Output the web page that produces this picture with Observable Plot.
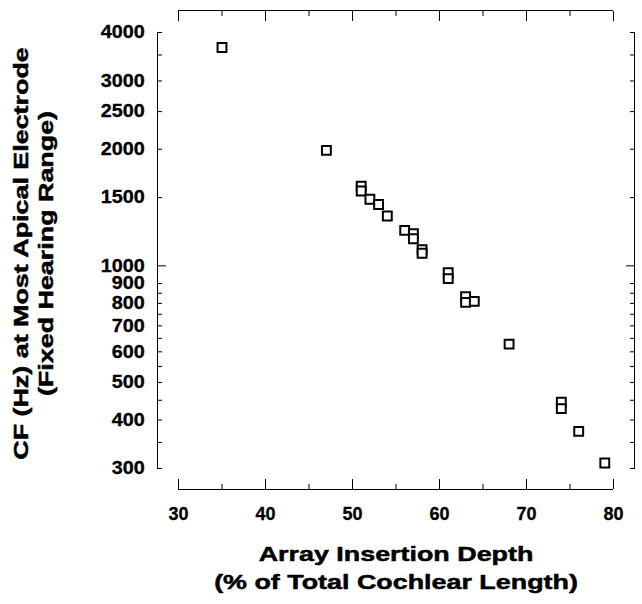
<!DOCTYPE html>
<html><head><meta charset="utf-8">
<script src="https://cdn.jsdelivr.net/npm/d3@7"></script>
<script src="https://cdn.jsdelivr.net/npm/@observablehq/plot@0.6"></script>
<style>body{margin:0;background:#fff;}</style>
</head><body><div id="chart"></div>
<script>
const depth = [35, 47, 51, 51, 52, 53, 54, 56, 57, 57, 58, 58, 61, 61, 63, 63, 64, 68, 74, 74, 76, 79];
const cf = [3660, 1985, 1605, 1560, 1485, 1440, 1345, 1235, 1210, 1175, 1100, 1078, 960, 927, 833, 805, 810, 628, 445, 428, 374, 310];
const xMajorTicks = [30, 40, 50, 60, 70, 80];
const xMinorTicks = [35, 45, 55, 65, 75];
const yLabelTicks = [4000, 3000, 2500, 2000, 1500, 1000, 900, 800, 700, 600, 500, 400, 300];
const yMajorTicks = [1000];
const yMinorTicks = [4000, 3500, 3000, 2500, 2000, 1500, 900, 850, 800, 750, 700, 650, 600, 550, 500, 450, 400, 350, 300];
const xTitle = "Array Insertion Depth\n(% of Total Cochlear Length)";
const yTitle = "CF (Hz) at Most Apical Electrode\n(Fixed Hearing Range)";

const data = depth.map((d, i) => ({depth: d, cf: cf[i]}));
const font = "'Liberation Sans', Arial, Helvetica, sans-serif";

const chart = Plot.plot({
  width: 642, height: 604,
  marginLeft: 178, marginRight: 29, marginTop: 32, marginBottom: 136,
  style: {fontFamily: font, fontWeight: "bold", color: "black", background: "white"},
  x: {domain: [30, 80], label: null},
  y: {type: "log", domain: [300, 4000], label: null},
  marks: [
    Plot.ruleX([30], {dx: -21, stroke: "black"}),
    Plot.ruleX([80], {dx: 21, stroke: "black"}),
    Plot.ruleY([300], {dy: 21, stroke: "black"}),
    Plot.ruleY([4000], {dy: -22, stroke: "black"}),
    Plot.axisX(xMajorTicks, {anchor: "bottom", tickSize: -10, dy: 21, fill: "none", label: null, stroke: "black"}),
    Plot.axisX(xMinorTicks, {anchor: "bottom", tickSize: -5, dy: 21, fill: "none", label: null, stroke: "black"}),
    Plot.axisX(xMajorTicks, {anchor: "top", tickSize: -10, dy: -22, fill: "none", label: null, stroke: "black"}),
    Plot.axisX(xMinorTicks, {anchor: "top", tickSize: -5, dy: -22, fill: "none", label: null, stroke: "black"}),
    Plot.axisX(xMajorTicks, {anchor: "bottom", tickSize: 0, tickPadding: 38.7, fontSize: 18, label: null, tickFormat: "d"}),
    Plot.axisY(yMajorTicks, {anchor: "left", tickSize: -9, dx: -21, fill: "none", label: null, stroke: "black"}),
    Plot.axisY(yMinorTicks, {anchor: "left", tickSize: -5, dx: -21, fill: "none", label: null, stroke: "black"}),
    Plot.axisY(yMajorTicks, {anchor: "right", tickSize: -9, dx: 21, fill: "none", label: null, stroke: "black"}),
    Plot.axisY(yMinorTicks, {anchor: "right", tickSize: -5, dx: 21, fill: "none", label: null, stroke: "black"}),
    Plot.axisY(yLabelTicks, {anchor: "left", tickSize: 0, tickPadding: 33.7, fontSize: 18, label: null, tickFormat: "d"}),
    Plot.text([xTitle], {frameAnchor: "bottom", lineAnchor: "top", textAnchor: "middle", dy: 73, fontSize: 21, fontWeight: "bold", lineHeight: 1.33, fill: "black", stroke: "black", strokeWidth: 0.5}),
    Plot.text([yTitle], {frameAnchor: "left", rotate: -90, lineAnchor: "top", textAnchor: "middle", dx: -168.5, dy: 3, fontSize: 21, fontWeight: "bold", lineHeight: 1.2, fill: "black", stroke: "black", strokeWidth: 0.5}),
    Plot.dot(data, {x: "depth", y: "cf", symbol: "square", r: 5, stroke: "black", strokeWidth: 2, fill: "white"})
  ]
});
// the reference titles are set in a horizontally wide bold face
d3.select(chart).selectAll("g[aria-label='text'] text")
  .attr("transform", function() { return (this.getAttribute("transform") || "") + " scale(1.28,1)"; });
d3.select(chart).selectAll("g[aria-label='y-axis tick label'] text")
  .attr("transform", function() { return (this.getAttribute("transform") || "") + " scale(1.1,1)"; });
d3.select(chart).selectAll("g[aria-label$='tick label']")
  .attr("stroke", "black").attr("stroke-width", 0.3);
document.getElementById("chart").appendChild(chart);
</script>
</body></html>
